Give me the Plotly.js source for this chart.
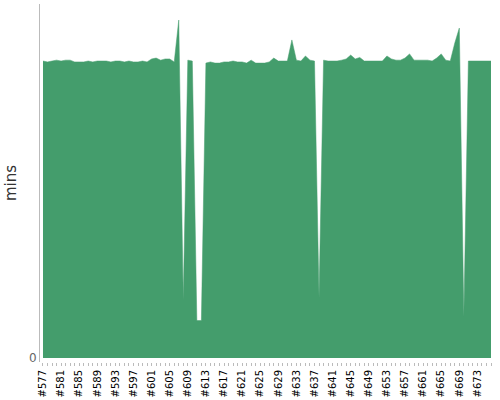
<!DOCTYPE html>
<html>
<head>
<meta charset="utf-8">
<script src="https://cdn.plot.ly/plotly-3.0.1.min.js"></script>
<style>html,body{margin:0;padding:0;background:#fff}#chart{width:500px;height:400px}</style>
</head>
<body>
<div id="chart"></div>
<script>
var builds = ["#577","#578","#579","#580","#581","#582","#583","#584","#585","#586",
"#587","#588","#589","#590","#591","#592","#593","#594","#595","#596",
"#597","#598","#599","#600","#601","#602","#603","#604","#605","#606",
"#607","#608","#609","#610","#611","#612","#613","#614","#615","#616",
"#617","#618","#619","#620","#621","#622","#623","#624","#625","#626",
"#627","#628","#629","#630","#631","#632","#633","#634","#635","#636",
"#637","#638","#639","#640","#641","#642","#643","#644","#645","#646",
"#647","#648","#649","#650","#651","#652","#653","#654","#655","#656",
"#657","#658","#659","#660","#661","#662","#663","#664","#665","#666",
"#667","#668","#669","#670","#671","#672","#673","#674","#675","#676"];

var durations = [10.00,9.97,10.00,10.03,10.00,10.03,10.03,9.97,9.97,9.97,
10.00,9.97,10.00,10.00,10.00,9.97,10.00,10.00,9.97,10.00,
9.97,9.97,10.00,9.97,10.07,10.10,10.03,10.07,10.07,9.97,
11.38,1.95,10.03,10.00,1.26,1.26,9.93,9.97,9.93,9.93,
9.97,9.97,10.00,9.97,9.97,9.93,10.03,9.93,9.93,9.93,
9.97,10.10,10.00,10.00,10.00,10.71,10.03,10.00,10.17,10.03,
10.00,2.02,10.03,10.00,10.00,10.00,10.03,10.07,10.20,10.07,
10.12,10.00,10.00,10.00,10.00,10.00,10.17,10.07,10.03,10.03,
10.10,10.24,10.03,10.03,10.03,10.03,10.00,10.10,10.24,10.03,
10.00,10.61,11.11,1.38,10.00,10.00,10.00,10.00,10.00,10.00];

var labelEvery = 4;
var tickText = builds.map(function(b, i){ return i % labelEvery === 0 ? b : ""; });

var trace = {
  type: "scatter",
  mode: "lines",
  x: builds,
  y: durations,
  fill: "tozeroy",
  fillcolor: "#449d6c",
  line: {color: "#449d6c", width: 0.5},
  hoverinfo: "x+y"
};

var layout = {
  width: 500,
  height: 400,
  margin: {l: 40, r: 9, t: 4, b: 38},
  paper_bgcolor: "#fff",
  plot_bgcolor: "#fff",
  showlegend: false,
  font: {family: "DejaVu Sans, sans-serif"},
  xaxis: {
    type: "category",
    range: [-0.66, 99.0],
    tickmode: "array",
    tickvals: builds,
    ticktext: tickText,
    tickangle: -90,
    ticks: "outside",
    ticklen: 3,
    tickcolor: "#bbb",
    tickfont: {size: 10, color: "#000", family: "DejaVu Sans, sans-serif"},
    showgrid: false,
    showline: false,
    zeroline: false
  },
  yaxis: {
    range: [-0.135, 11.92],
    tickmode: "array",
    tickvals: [0],
    ticktext: ["0"],
    ticks: "",
    tickfont: {size: 12, color: "#666", family: "DejaVu Sans, sans-serif"},
    showgrid: false,
    zeroline: false,
    showline: true,
    linecolor: "#bbb",
    linewidth: 1,
    title: {text: "mins", font: {size: 15, color: "#333", family: "DejaVu Sans, sans-serif"}, standoff: 8}
  }
};

Plotly.newPlot("chart", [trace], layout, {displayModeBar: false, staticPlot: true});
</script>
</body>
</html>
